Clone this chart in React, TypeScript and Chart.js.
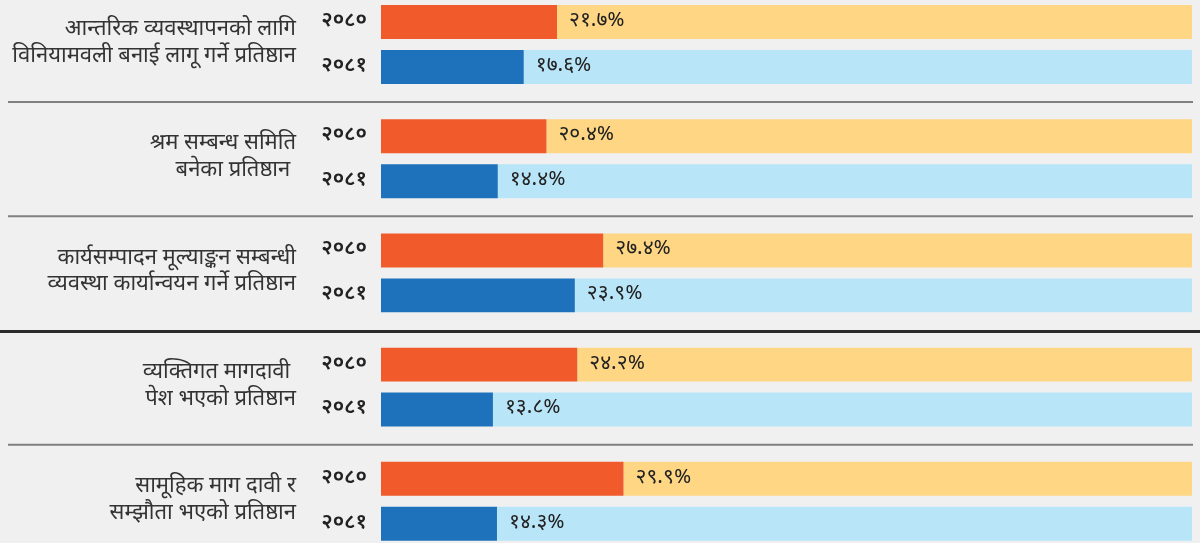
import React, { useEffect, useRef } from 'react';
import { Chart, registerables } from 'chart.js';

Chart.register(...registerables);

const categories: string[][] = [
  ['आन्तरिक व्यवस्थापनको लागि', 'विनियामवली बनाई लागू गर्ने प्रतिष्ठान'],
  ['श्रम सम्बन्ध समिति', 'बनेका प्रतिष्ठान '],
  ['कार्यसम्पादन मूल्याङ्कन सम्बन्धी', 'व्यवस्था कार्यान्वयन गर्ने प्रतिष्ठान'],
  ['व्यक्तिगत मागदावी ', 'पेश भएको प्रतिष्ठान'],
  ['सामूहिक माग दावी र', 'सम्झौता भएको प्रतिष्ठान'],
];
const years = ['२०८०', '२०८१'];
const values2080 = [21.7, 20.4, 27.4, 24.2, 29.9];
const values2081 = [17.6, 14.4, 23.9, 13.8, 14.3];
const scaleMax = 100;

const FONT = "'Noto Sans Devanagari', 'Noto Sans', 'DejaVu Sans', sans-serif";
const devDigits = '०१२३४५६७८९';
const toDev = (s: string) => s.replace(/[0-9]/g, (d) => devDigits[+d]);

const overlayPlugin = {
  id: 'overlay',
  afterDatasetsDraw(chart: any) {
    const ctx = chart.ctx as CanvasRenderingContext2D;
    const area = chart.chartArea;
    const yScale = chart.scales.y;
    ctx.save();
    // separators
    for (let i = 0; i < categories.length - 1; i++) {
      const y = (yScale.getPixelForValue(i) + yScale.getPixelForValue(i + 1)) / 2;
      ctx.beginPath();
      if (i === 2) {
        ctx.strokeStyle = '#2b2b2b';
        ctx.lineWidth = 3;
        ctx.moveTo(0, y + 1.5);
        ctx.lineTo(chart.width, y + 1.5);
      } else {
        ctx.strokeStyle = '#808080';
        ctx.lineWidth = 2;
        ctx.moveTo(8, y + 0.5);
        ctx.lineTo(area.right + 1, y + 0.5);
      }
      ctx.stroke();
    }
    // year labels and value labels
    const valueSets = [values2080, values2081];
    [0, 2].forEach((dsIndex, k) => {
      const meta = chart.getDatasetMeta(dsIndex);
      meta.data.forEach((bar: any, i: number) => {
        ctx.fillStyle = '#222';
        ctx.textBaseline = 'middle';
        ctx.font = `600 21px ${FONT}`;
        ctx.textAlign = 'right';
        ctx.fillText(years[k], area.left - 14, bar.y);
        ctx.textAlign = 'left';
        ctx.font = `21px ${FONT}`;
        ctx.fillText(toDev(valueSets[k][i].toFixed(1)) + '%', bar.x + 12, bar.y);
      });
    });
    ctx.restore();
  },
};

export default function App() {
  const ref = useRef<HTMLCanvasElement | null>(null);
  useEffect(() => {
    if (!ref.current) return;
    const chart = new Chart(ref.current, {
      type: 'bar',
      data: {
        labels: categories,
        datasets: [
          { label: years[0], data: values2080, backgroundColor: '#f15a2b', stack: 'a', clip: false as any, borderWidth: 0 },
          { label: 'rest0', data: values2080.map((v) => scaleMax - v), backgroundColor: '#fed684', stack: 'a', clip: false as any, borderWidth: 0 },
          { label: years[1], data: values2081, backgroundColor: '#1d72bb', stack: 'b', clip: false as any, borderWidth: 0 },
          { label: 'rest1', data: values2081.map((v) => scaleMax - v), backgroundColor: '#b9e5f9', stack: 'b', clip: false as any, borderWidth: 0 },
        ],
      },
      options: {
        indexAxis: 'y',
        animation: false,
        responsive: true,
        maintainAspectRatio: false,
        categoryPercentage: 0.787,
        barPercentage: 0.756,
        layout: { padding: { top: 44.5, bottom: 41.7, right: 8, left: 0 } },
        plugins: { legend: { display: false }, tooltip: { enabled: false } },
        scales: {
          x: { stacked: true, min: 0, max: scaleMax, display: false },
          y: {
            type: 'category',
            stacked: true,
            offset: false,
            grid: { display: false, drawTicks: false },
            border: { display: false },
            ticks: {
              padding: 85,
              color: '#333',
              font: { family: FONT, size: 22, lineHeight: 1.21 },
            },
            afterFit(scale: any) {
              scale.width = 381;
              scale.paddingTop = 0;
              scale.paddingBottom = 0;
            },
          },
        },
      } as any,
      plugins: [overlayPlugin],
    });
    return () => chart.destroy();
  }, []);
  return (
    <div style={{ position: 'fixed', left: 0, top: 0, width: 1200, height: 543, background: '#f0f0f0' }}>
      <canvas ref={ref} />
    </div>
  );
}
